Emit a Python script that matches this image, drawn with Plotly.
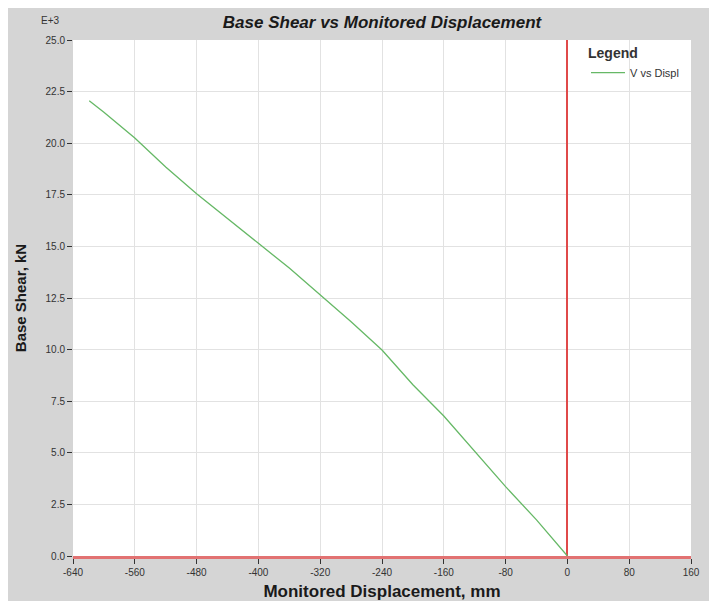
import plotly.graph_objects as go

# Data (base shear in E+3 kN, displacement in mm)
displacement_mm = [0, -40, -80, -120, -160, -200, -240, -280, -320, -360,
                   -400, -440, -480, -520, -560, -600, -619]
base_shear_e3 = [0.0, 1.75, 3.36, 5.08, 6.78, 8.3, 9.98, 11.35, 12.65, 13.95,
                 15.15, 16.35, 17.55, 18.85, 20.25, 21.5, 22.06]

x_ticks = [-640, -560, -480, -400, -320, -240, -160, -80, 0, 80, 160]
x_tick_labels = ["-640", "-560", "-480", "-400", "-320", "-240", "-160", "-80", "0", "80", "160"]
y_ticks = [0, 2.5, 5, 7.5, 10, 12.5, 15, 17.5, 20, 22.5, 25]

# figure sits inside the page body (8px default margin)
W, H = 705, 593
ML, MR, MT, MB = 65, 22, 32, 45
PW, PH = W - ML - MR, H - MT - MB

def px_x(p):
    return (p - ML) / PW

def px_y(p):
    return (H - MB - p) / PH

FONT = "Arial, Liberation Sans, sans-serif"
TXT = "#333333"

fig = go.Figure()
fig.add_trace(go.Scatter(
    x=displacement_mm, y=base_shear_e3, mode="lines",
    name="V vs Displ",
    line=dict(color="#66b866", width=1.3),
))

fig.update_layout(
    width=W, height=H,
    margin=dict(l=ML, r=MR, t=MT, b=MB, autoexpand=False),
    paper_bgcolor="#d5d5d5",
    plot_bgcolor="white",
    font=dict(family=FONT, color=TXT, size=10),
    title=dict(text="<b><i>Base Shear vs Monitored Displacement</i></b>",
               font=dict(family=FONT, size=17, color="#1a1a1a"),
               x=0.5, xref="paper", xanchor="center",
               y=1 - 14 / H, yref="container", yanchor="middle"),
    showlegend=True,
    legend=dict(
        x=px_x(578), y=1, xanchor="left", yanchor="top",
        bgcolor="rgba(0,0,0,0)", borderwidth=0, itemwidth=34,
        title=dict(text="<b>Legend</b>", font=dict(family=FONT, size=14, color=TXT)),
        font=dict(family=FONT, size=11, color=TXT),
    ),
    annotations=[
        dict(text="E+3", xref="paper", yref="paper", x=px_x(54), y=px_y(13),
             xanchor="right", yanchor="middle", showarrow=False,
             font=dict(family=FONT, size=10, color=TXT)),
    ],
)

fig.update_xaxes(
    range=[-640, 160], tickvals=x_ticks, ticktext=x_tick_labels,
    automargin=False,
    showgrid=True, gridcolor="#e2e2e2", gridwidth=1,
    ticks="outside", ticklen=5, tickcolor="#333333", tickwidth=1,
    tickfont=dict(family=FONT, size=10, color=TXT),
    showline=True, linecolor="#e27272", linewidth=3,
    zeroline=True, zerolinecolor="#e04a4a", zerolinewidth=1.5,
    title=dict(text="<b>Monitored Displacement, mm</b>",
               font=dict(family=FONT, size=17, color="#1a1a1a"), standoff=9),
    fixedrange=True,
)
fig.update_yaxes(
    range=[0, 25], tickvals=y_ticks, tickformat=".1f",
    automargin=False,
    showgrid=True, gridcolor="#e2e2e2", gridwidth=1,
    ticks="outside", ticklen=5, tickcolor="#333333", tickwidth=1,
    tickfont=dict(family=FONT, size=10, color=TXT),
    showline=False, zeroline=False,
    title=dict(text="<b>Base Shear, kN</b>",
               font=dict(family=FONT, size=15, color="#1a1a1a"), standoff=15),
    fixedrange=True,
)

fig.write_html("out.html")
